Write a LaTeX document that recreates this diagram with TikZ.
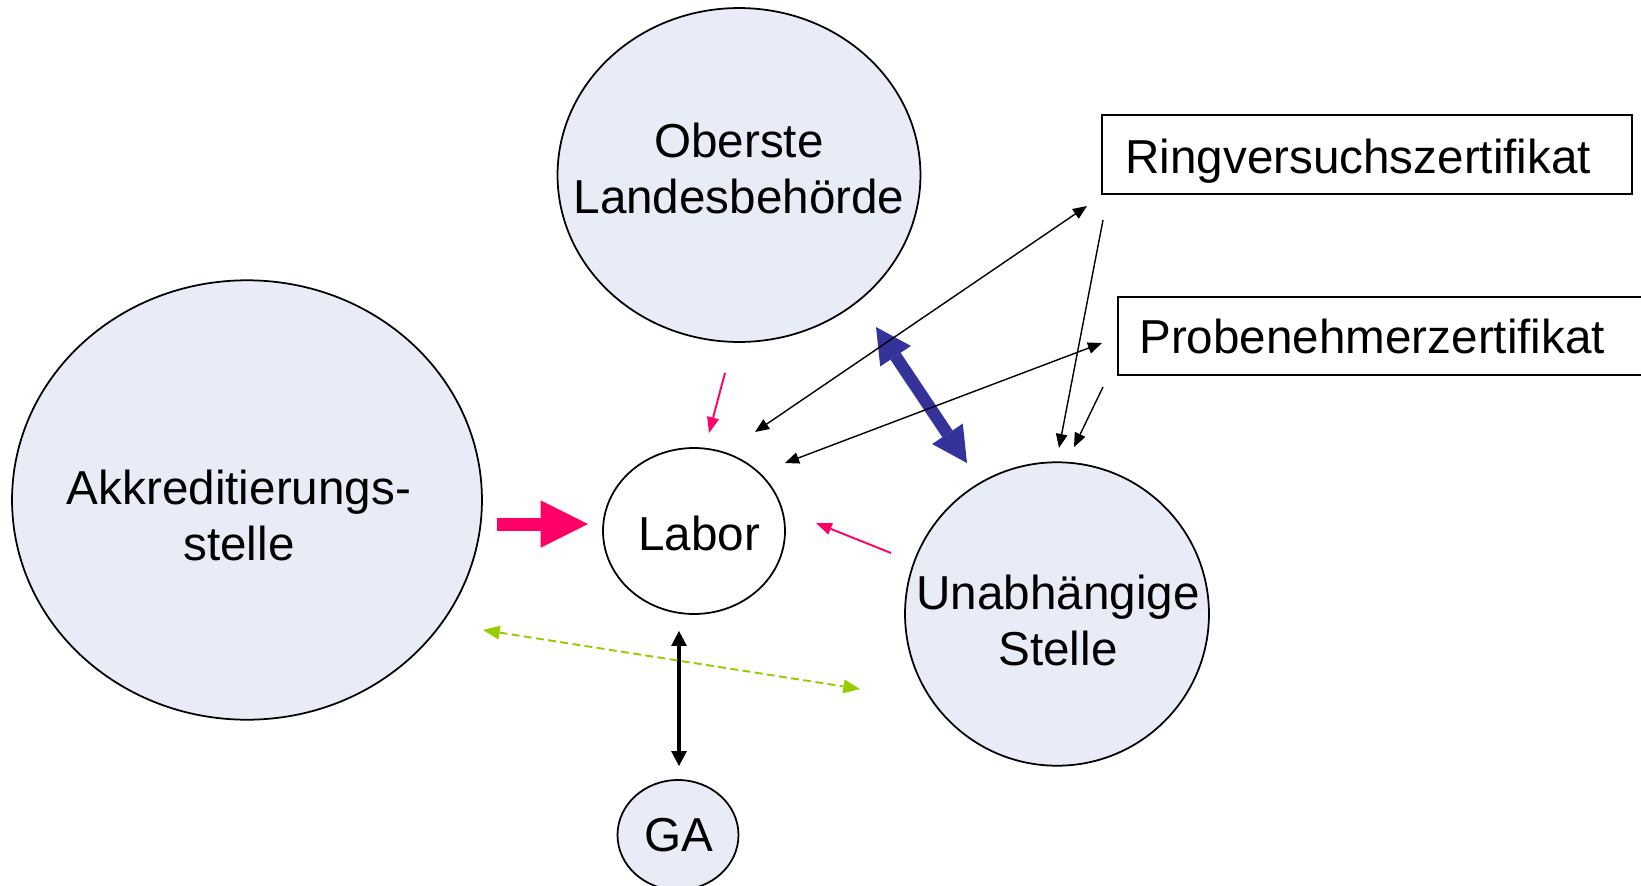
\documentclass[tikz,border=0pt]{standalone}
\usepackage{fontspec}
\setmainfont{Liberation Sans}
\usetikzlibrary{arrows.meta,shapes.geometric}
\definecolor{bubble}{HTML}{E7ECF6}
\definecolor{signal}{HTML}{FF0066}
\definecolor{mutual}{HTML}{333399}
\definecolor{liaison}{HTML}{99CC00}

\begin{document}
\begin{tikzpicture}[x=0.02cm, y=-0.02cm,
  body/.style={ellipse, draw, line width=1pt, fill=bubble, inner sep=0pt},
  word/.style={inner sep=0pt, align=center, font=\fontsize{27.1}{32}\selectfont},
  cert/.style={draw, line width=1.1pt, minimum width=10.6cm, minimum height=1.57cm},
  link/.style={line width=0.8pt, {Triangle[length=8pt,width=6.5pt]}-{Triangle[length=8pt,width=6.5pt]}},
  feed/.style={line width=0.8pt, -{Triangle[length=8pt,width=6.5pt]}},
  nudge/.style={signal, line width=1.1pt, -{Triangle[length=9pt,width=7pt,line width=0pt]}}
]
  \useasboundingbox (0,0) rectangle (1641,886);

  \node[body, minimum width=7.26cm, minimum height=6.68cm] (olb) at (739,175) {};
  \node[body, minimum width=9.4cm, minimum height=8.79cm] (akk) at (247,500) {};
  \node[body, fill=white, minimum width=3.64cm, minimum height=3.32cm] (labor) at (694,531) {};
  \node[body, minimum width=6.08cm, minimum height=6.07cm] (unab) at (1057,614) {};
  \node[body, minimum width=2.42cm, minimum height=2.2cm] (ga) at (678,835) {};

  \node[word] (olbT) at (739,168.5) {Oberste\\Landesbehörde};
  \node[word] (akkT) at (239,515.5) {Akkreditierungs-\\stelle};
  \node[word] (laborT) at (699,533) {Labor};
  \node[word] (unabT) at (1058,620.5) {Unabhängige\\Stelle};
  \node[word] (gaT) at (679,835) {GA};

  \node[cert] (ring) at (1367,154.5) {};
  \node[cert] (probe) at (1383,336) {};
  \node[word, anchor=base west] (ringT) at (1125,173) {Ringversuchszertifikat};
  \node[word, anchor=base west] (probeT) at (1139,353) {Probenehmerzertifikat};

  % arrow ends
  \coordinate (laborRing) at (755,432);
  \coordinate (ringIn) at (1087,206);
  \coordinate (laborProbe) at (785,463);
  \coordinate (probeIn) at (1102,343);
  \coordinate (ringOut) at (1103,220);
  \coordinate (unabRing) at (1059,448);
  \coordinate (probeOut) at (1103,387);
  \coordinate (unabProbe) at (1074,447);
  \coordinate (olbOut) at (725,373);
  \coordinate (laborTop) at (709,433);
  \coordinate (unabOut) at (891,553);
  \coordinate (laborRight) at (816,523);
  \coordinate (akkOut) at (497,524);
  \coordinate (laborLeft) at (588,524);
  \coordinate (bondA) at (876,327);
  \coordinate (bondB) at (967,463);
  \coordinate (laborLow) at (679,631);
  \coordinate (gaTop) at (679,766);
  \coordinate (akkLow) at (483,630);
  \coordinate (unabLow) at (860,689);

  \draw[mutual, line width=7pt, {Triangle[length=20pt,width=21pt,line width=0pt]}-{Triangle[length=20pt,width=21pt,line width=0pt]}] (bondA) -- (bondB);

  \draw[link] (laborRing) -- (ringIn);
  \draw[link] (laborProbe) -- (probeIn);
  \draw[feed] (ringOut) -- (unabRing);
  \draw[feed] (probeOut) -- (unabProbe);

  \draw[nudge] (olbOut) -- (laborTop);
  \draw[nudge] (unabOut) -- (laborRight);
  \draw[signal, line width=7.4pt, -{Triangle[length=27pt,width=27pt,line width=0pt]}] (akkOut) -- (laborLeft);

  \draw[line width=1.9pt, {Triangle[length=8.5pt,width=9pt,line width=0pt]}-{Triangle[length=8.5pt,width=9pt,line width=0pt]}] (laborLow) -- (gaTop);
  \draw[liaison, line width=1.1pt, dash pattern=on 4.5pt off 2.5pt, {Triangle[length=9.5pt,width=8pt,line width=0pt]}-{Triangle[length=9.5pt,width=8pt,line width=0pt]}] (akkLow) -- (unabLow);
\end{tikzpicture}
\end{document}
